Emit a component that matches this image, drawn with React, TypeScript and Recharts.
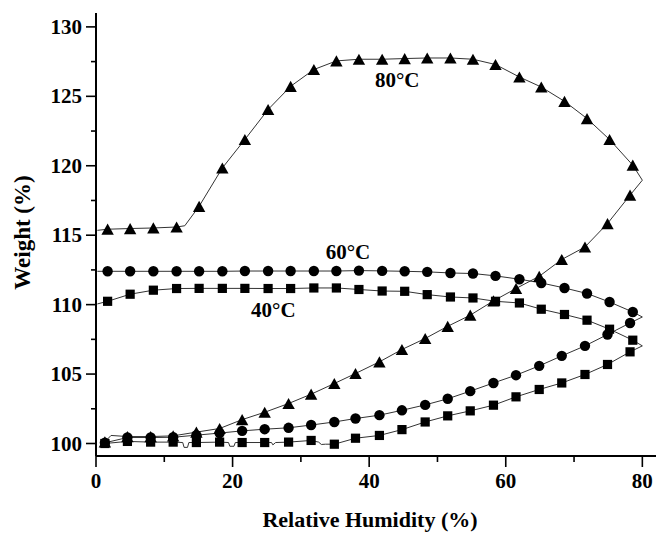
import React from 'react';
import { ComposedChart, Line, XAxis, YAxis, ReferenceDot } from 'recharts';

const FONT = '"Liberation Serif", "Times New Roman", Times, serif';

// Relative humidity at the plotted markers
const rhUpper = [1.7, 5.0, 8.4, 11.8, 15.1, 18.5, 21.8, 25.2, 28.5, 31.9, 35.2, 38.5, 41.9, 45.2, 48.5, 51.9, 55.2, 58.5, 62.0, 65.2, 68.6, 71.9, 75.2, 78.6];
const rhLower = [1.3, 4.6, 8.0, 11.3, 14.7, 18.1, 21.4, 24.7, 28.2, 31.5, 34.9, 38.0, 41.5, 44.8, 48.2, 51.5, 54.8, 58.2, 61.5, 64.9, 68.2, 71.6, 74.9, 78.2];

// 80°C
const w80Upper = [115.43, 115.48, 115.52, 115.59, 117.08, 119.84, 121.89, 124.05, 125.72, 126.93, 127.55, 127.67, 127.67, 127.72, 127.76, 127.76, 127.67, 127.29, 126.39, 125.67, 124.64, 123.40, 121.89, 120.04];
const w80Lower = [100.12, 100.5, 100.5, 100.55, 100.82, 101.08, 101.72, 102.25, 102.88, 103.55, 104.32, 105.04, 105.88, 106.77, 107.56, 108.44, 109.24, 110.27, 111.16, 112.04, 113.25, 114.15, 115.84, 117.88];
// 60°C
const w60Upper = [112.40, 112.40, 112.40, 112.40, 112.40, 112.40, 112.42, 112.42, 112.42, 112.42, 112.42, 112.45, 112.43, 112.40, 112.36, 112.28, 112.24, 112.07, 111.83, 111.56, 111.20, 110.80, 110.19, 109.47];
const w60Lower = [100.05, 100.43, 100.43, 100.45, 100.6, 100.75, 100.91, 101.03, 101.13, 101.33, 101.55, 101.8, 102.04, 102.39, 102.78, 103.22, 103.77, 104.36, 104.92, 105.59, 106.31, 107.03, 107.85, 108.68];
// 40°C
const w40Upper = [110.24, 110.75, 111.04, 111.16, 111.17, 111.17, 111.17, 111.16, 111.16, 111.2, 111.2, 111.09, 110.98, 110.96, 110.72, 110.55, 110.48, 110.24, 110.12, 109.67, 109.29, 108.88, 108.23, 107.44];
const w40Lower = [100.0, 100.15, 100.1, 100.1, 100.07, 100.1, 100.07, 100.07, 100.1, 100.22, 99.95, 100.38, 100.58, 101.0, 101.55, 101.99, 102.35, 102.76, 103.36, 103.89, 104.36, 104.97, 105.69, 106.6];

// Turning point at the top of the humidity scan and the curve ends (no markers)
const turnRh = 80.0;
const turnW = { t80: 118.96, t60: 109.11, t40: 107.03 };
const endRh = 0.2;
const endW = { t80: 115.35, t60: 112.40, t40: 110.05 };

// Unmarked raw-curve details
const extra80UpperRh = [13.0];
const extra80UpperW = [115.68];
const extra80LowerRh = [2.2];
const extra80LowerW = [100.58];
const glitch40Rh = [12.7, 12.9, 13.4, 13.6, 19.4, 19.6, 20.2, 20.4, 25.7, 25.9, 26.3, 32.6, 33.0, 33.6];
const glitch40W = [100.07, 99.72, 99.72, 100.07, 100.07, 99.8, 99.8, 100.07, 100.07, 99.9, 100.07, 100.1, 99.93, 99.95];

// Axis ticks
const xTicks = [0, 10, 20, 30, 40, 50, 60, 70, 80];
const xMajor = [0, 20, 40, 60, 80];
const yTicks = [100, 102.5, 105, 107.5, 110, 112.5, 115, 117.5, 120, 122.5, 125, 127.5, 130];
const yMajor = [100, 105, 110, 115, 120, 125, 130];

type Pt = { rh: number; w: number; m: boolean };

function buildLoop(
  lowerW: number[], lowerExRh: number[], lowerExW: number[],
  tW: number,
  upperW: number[], upperExRh: number[], upperExW: number[],
  eW: number
): Pt[] {
  const lower: Pt[] = rhLower.map((rh, i) => ({ rh, w: lowerW[i], m: true }))
    .concat(lowerExRh.map((rh, i) => ({ rh, w: lowerExW[i], m: false })))
    .sort((a, b) => a.rh - b.rh);
  const upper: Pt[] = rhUpper.map((rh, i) => ({ rh, w: upperW[i], m: true }))
    .concat(upperExRh.map((rh, i) => ({ rh, w: upperExW[i], m: false })))
    .sort((a, b) => b.rh - a.rh);
  return [...lower, { rh: turnRh, w: tW, m: false }, ...upper, { rh: endRh, w: eW, m: false }];
}

const loop80 = buildLoop(w80Lower, extra80LowerRh, extra80LowerW, turnW.t80, w80Upper, extra80UpperRh, extra80UpperW, endW.t80);
const loop60 = buildLoop(w60Lower, [], [], turnW.t60, w60Upper, [], [], endW.t60);
const loop40 = buildLoop(w40Lower, glitch40Rh, glitch40W, turnW.t40, w40Upper, [], [], endW.t40);

const TriangleDot = (p: any) => {
  const { cx, cy, payload } = p;
  if (!payload || !payload.m || cx == null || cy == null) return <g />;
  const hw = 6.2, hh = 5.6;
  return <path d={`M${cx},${cy - hh}L${cx + hw},${cy + hh}L${cx - hw},${cy + hh}Z`} fill="#000" />;
};
const CircleDot = (p: any) => {
  const { cx, cy, payload } = p;
  if (!payload || !payload.m || cx == null || cy == null) return <g />;
  return <circle cx={cx} cy={cy} r={5.2} fill="#000" />;
};
const SquareDot = (p: any) => {
  const { cx, cy, payload } = p;
  if (!payload || !payload.m || cx == null || cy == null) return <g />;
  return <rect x={cx - 4.6} y={cy - 4.6} width={9.2} height={9.2} fill="#000" />;
};

const XTick = (p: any) => {
  const { x, y, payload } = p;
  const major = xMajor.includes(payload.value);
  return (
    <g>
      <line x1={x} x2={x} y1={y} y2={y + (major ? 11 : 6)} stroke="#000" strokeWidth={1.6} />
      {major && (
        <text x={x} y={y + 32} textAnchor="middle" fontFamily={FONT} fontWeight="bold" fontSize={21} fill="#000">
          {payload.value}
        </text>
      )}
    </g>
  );
};
const YTick = (p: any) => {
  const { x, y, payload } = p;
  const major = yMajor.includes(payload.value);
  return (
    <g>
      <line x1={x - (major ? 10 : 5)} x2={x} y1={y} y2={y} stroke="#000" strokeWidth={1.6} />
      {major && (
        <text x={x - 14} y={y + 7} textAnchor="end" fontFamily={FONT} fontWeight="bold" fontSize={21} fill="#000">
          {payload.value}
        </text>
      )}
    </g>
  );
};
const TopTick = (p: any) => {
  const { x, y } = p;
  return <line x1={x} x2={x} y1={y} y2={y + 4} stroke="#000" strokeWidth={1.2} />;
};
const RightTick = (p: any) => {
  const { x, y } = p;
  return <line x1={x - 4} x2={x} y1={y} y2={y} stroke="#000" strokeWidth={1.2} />;
};

const labelStyle = { fontFamily: FONT, fontWeight: 'bold' as const, fontSize: 21, fill: '#000' };

export default function App() {
  return (
    <div style={{ position: 'absolute', left: 0, top: 0, width: 659, height: 536, background: '#fff' }}>
      <ComposedChart width={659} height={536} margin={{ top: 13, right: 3, bottom: 0, left: 0 }}>
        <XAxis
          xAxisId={0}
          dataKey="rh"
          type="number"
          domain={[0, 82]}
          allowDataOverflow
          ticks={xTicks}
          interval={0}
          height={80}
          tickSize={0}
          tickMargin={0}
          tickLine={false}
          tick={<XTick />}
          axisLine={{ stroke: '#000', strokeWidth: 2 }}
          label={{
            content: (lp: any) => {
              const vb = lp.viewBox || { x: 96, y: 456, width: 560, height: 80 };
              return (
                <text x={vb.x + vb.width / 2 - 6} y={527} textAnchor="middle" fontFamily={FONT} fontWeight="bold" fontSize={22} fill="#000">
                  Relative Humidity (%)
                </text>
              );
            },
          }}
        />
        <XAxis
          xAxisId="top"
          orientation="top"
          type="number"
          domain={[0, 82]}
          allowDataOverflow
          ticks={xTicks}
          interval={0}
          height={0}
          tickSize={0}
          tickMargin={0}
          tickLine={false}
          tick={<TopTick />}
          axisLine={{ stroke: '#000', strokeWidth: 1.5 }}
        />
        <YAxis
          yAxisId={0}
          type="number"
          domain={[99.1, 131]}
          allowDataOverflow
          ticks={yTicks}
          interval={0}
          width={96}
          tickSize={0}
          tickMargin={0}
          tickLine={false}
          tick={<YTick />}
          axisLine={{ stroke: '#000', strokeWidth: 2 }}
          label={{
            content: (lp: any) => {
              const vb = lp.viewBox || { x: 0, y: 13, width: 96, height: 443 };
              const cy = vb.y + vb.height / 2 - 2;
              return (
                <text x={30} y={cy} transform={`rotate(-90, 30, ${cy})`} textAnchor="middle" fontFamily={FONT} fontWeight="bold" fontSize={23} fill="#000">
                  Weight (%)
                </text>
              );
            },
          }}
        />
        <YAxis
          yAxisId="right"
          orientation="right"
          type="number"
          domain={[99.1, 131]}
          allowDataOverflow
          ticks={yTicks}
          interval={0}
          width={0}
          tickSize={0}
          tickMargin={0}
          tickLine={false}
          tick={<RightTick />}
          axisLine={{ stroke: '#000', strokeWidth: 1.5 }}
        />
        <Line data={loop80} dataKey="w" type="linear" stroke="#333" strokeWidth={1} dot={TriangleDot} activeDot={false} isAnimationActive={false} />
        <Line data={loop60} dataKey="w" type="linear" stroke="#333" strokeWidth={1} dot={CircleDot} activeDot={false} isAnimationActive={false} />
        <Line data={loop40} dataKey="w" type="linear" stroke="#333" strokeWidth={1} dot={SquareDot} activeDot={false} isAnimationActive={false} />
        <ReferenceDot x={44.1} y={126.21} r={0} fill="none" stroke="none" label={{ value: '80°C', position: 'center', ...labelStyle }} />
        <ReferenceDot x={36.9} y={113.79} r={0} fill="none" stroke="none" label={{ value: '60°C', position: 'center', ...labelStyle }} />
        <ReferenceDot x={25.96} y={109.65} r={0} fill="none" stroke="none" label={{ value: '40°C', position: 'center', ...labelStyle }} />
      </ComposedChart>
    </div>
  );
}
